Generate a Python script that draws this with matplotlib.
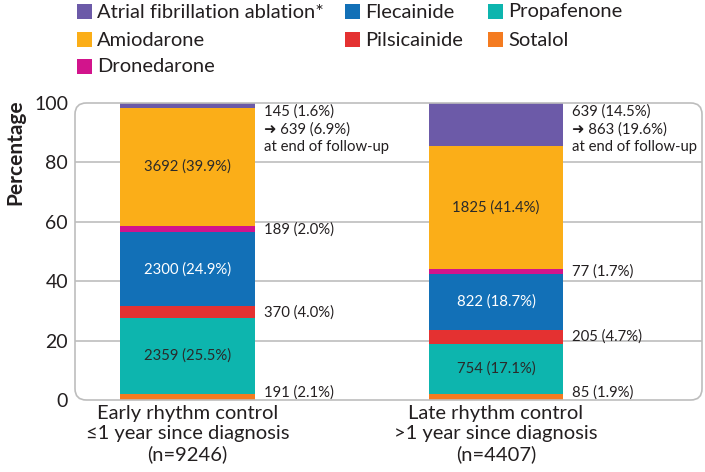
import matplotlib
matplotlib.use("Agg")
import matplotlib.pyplot as plt
from matplotlib.patches import FancyBboxPatch, Rectangle
import numpy as np

plt.rcParams['font.family'] = ['Lato', 'DejaVu Sans']

groups = ["Early rhythm control\n≤1 year since diagnosis\n(n=9246)",
          "Late rhythm control\n>1 year since diagnosis\n(n=4407)"]
# bottom to top
series = ["Sotalol", "Propafenone", "Pilsicainide", "Flecainide",
          "Dronedarone", "Amiodarone", "Atrial fibrillation ablation*"]
colors = ["#F47B20", "#0DB5AE", "#E43131", "#1270B7",
          "#D2148C", "#FBAE18", "#6C5AA8"]
early_pct = [2.1, 25.5, 4.0, 24.9, 2.0, 39.9, 1.6]
late_pct = [1.9, 17.1, 4.7, 18.7, 1.7, 41.4, 14.5]
early_n = [191, 2359, 370, 2300, 189, 3692, 145]
late_n = [85, 754, 205, 822, 77, 1825, 639]
inside = [False, True, False, True, False, True, False]
inside_color = [None, "#2a2a2a", None, "white", None, "#2a2a2a", None]
followup = [(639, 6.9), (863, 19.6)]
txt = "#231F20"

fig = plt.figure(figsize=(7.05, 4.72), dpi=100)
ax = fig.add_axes([75/705, 1-400/472, 627/705, 297/472])

x = np.array([0, 1])
w = 0.4376
ax.set_xlim(-0.365, 1.668)
ax.set_ylim(0, 100)

frame = FancyBboxPatch((75/705, 1-400/472), 627/705, 297/472,
                       boxstyle="round,pad=0,rounding_size=0.016",
                       mutation_aspect=705/472, transform=fig.transFigure,
                       fill=False, edgecolor="#BDBDBD", linewidth=1.2, zorder=0)
fig.patches.append(frame)
for g in [20, 40, 60, 80]:
    ax.axhline(g, color="#BDBDBD", linewidth=1.2, zorder=0)

fs_ann = 10.7
dx = w/2 + 0.029
data = [early_pct, late_pct]
counts = [early_n, late_n]
for gi in range(2):
    bottom = 0
    for si in range(len(series)):
        v = data[gi][si]
        ax.bar(x[gi], v, w, bottom=bottom, color=colors[si], zorder=2, linewidth=0)
        n = counts[gi][si]
        label = f"{n} ({v:.1f}%)"
        if inside[si]:
            ax.text(x[gi], bottom + v/2, label, ha="center", va="center",
                    color=inside_color[si], fontsize=fs_ann, zorder=3)
        elif si == len(series) - 1:
            fn, fp = followup[gi]
            ax.text(x[gi] + dx, 99.6,
                    f"{label}\n➜ {fn} ({fp:.1f}%)\nat end of follow-up",
                    ha="left", va="top", fontsize=fs_ann, color=txt,
                    linespacing=1.3)
        else:
            yy = max(bottom + v/2, 2.4)
            ax.text(x[gi] + dx, yy, label, ha="left", va="center",
                    fontsize=fs_ann, color=txt)
        bottom += v

for s in ax.spines.values():
    s.set_visible(False)
ax.set_xticks(x)
ax.set_xticklabels(groups, fontsize=14.5, color=txt, linespacing=1.22)
ax.set_yticks([0, 20, 40, 60, 80, 100])
ax.tick_params(axis="both", length=0, colors=txt)
ax.tick_params(axis="x", pad=3.5, labelsize=14.5)
ax.tick_params(axis="y", pad=5, labelsize=14)
ax.set_ylabel("Percentage", fontsize=15, fontweight="bold", color=txt)
ax.yaxis.set_label_coords(-0.079, 0.835)

# legend laid out in three columns, row-major as in the reference
legend_order = [6, 3, 1, 5, 2, 0, 4]
col_x = [77, 345, 488]
row_y = [12, 40, 67]
for k, si in enumerate(legend_order):
    r, c = divmod(k, 3)
    px, py = col_x[c], row_y[r]
    fig.add_artist(Rectangle((px/705, 1-(py+7)/472), 15/705, 15/472,
                             transform=fig.transFigure, facecolor=colors[si],
                             edgecolor="none"))
    fig.text((px+20)/705, 1-py/472, series[si], fontsize=14.5, va="center",
             ha="left", color=txt)

fig.savefig("out.png", dpi=100)
